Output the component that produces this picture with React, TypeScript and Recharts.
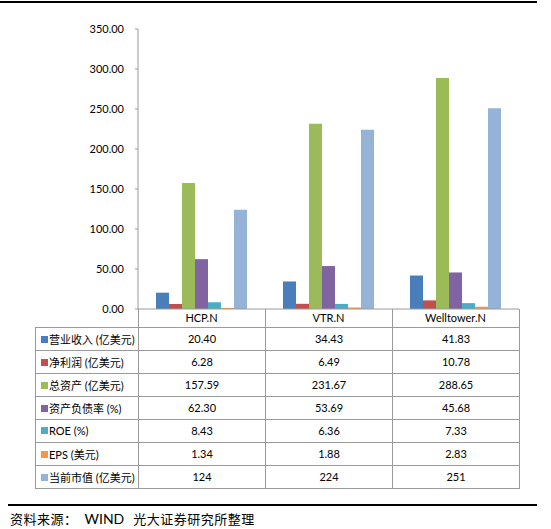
import { BarChart, Bar, XAxis, YAxis } from 'recharts';

document.body.style.margin = '0';

const categories = ['HCP.N', 'VTR.N', 'Welltower.N'];
const revenue = [20.4, 34.43, 41.83];
const netProfit = [6.28, 6.49, 10.78];
const totalAssets = [157.59, 231.67, 288.65];
const debtRatio = [62.3, 53.69, 45.68];
const roe = [8.43, 6.36, 7.33];
const eps = [1.34, 1.88, 2.83];
const marketCap = [124, 224, 251];
const yTicks = [0, 50, 100, 150, 200, 250, 300, 350];

const seriesNames = [
  '营业收入 (亿美元)',
  '净利润 (亿美元)',
  '总资产 (亿美元)',
  '资产负债率 (%)',
  'ROE (%)',
  'EPS (美元)',
  '当前市值 (亿美元)',
];
const seriesValues = [revenue, netProfit, totalAssets, debtRatio, roe, eps, marketCap];
const seriesColors = ['#4a7ebb', '#c0504d', '#9bbb59', '#8064a2', '#4bacc6', '#f79646', '#95b3d7'];

const data = categories.map((name, i) => {
  const row: Record<string, string | number> = { name };
  seriesValues.forEach((vals, s) => {
    row['s' + s] = vals[i];
  });
  return row;
});

const fmt = (v: number) => (Number.isInteger(v) ? String(v) : v.toFixed(2));

const FONT = 'Lato, "Noto Sans CJK SC", sans-serif';
const line = '1px solid #9a9a9a';

export default function App() {
  return (
    <div style={{ position: 'relative', width: 551, height: 529, fontFamily: FONT, background: '#fff' }}>
      <div style={{ position: 'absolute', left: 0, top: 1, width: 537, height: 2, background: '#000' }} />

      <div style={{ position: 'absolute', left: 0, top: 0 }}>
        <BarChart
          width={551}
          height={330}
          data={data}
          margin={{ top: 29, right: 32, left: 0, bottom: 3 }}
          barCategoryGap={18}
          barGap={0}
        >
          <XAxis
            dataKey="name"
            height={18}
            axisLine={{ stroke: '#9a9a9a' }}
            tickLine={false}
            tickSize={4}
            tickMargin={1}
            tick={{ fontSize: 11, fill: '#000', fontFamily: FONT }}
          />
          <YAxis
            width={138}
            domain={[0, 350]}
            ticks={yTicks}
            interval={0}
            tickFormatter={(v: number) => v.toFixed(2)}
            axisLine={{ stroke: '#9a9a9a' }}
            tickLine={{ stroke: '#9a9a9a' }}
            tickSize={3}
            tickMargin={11}
            tick={{ fontSize: 11, fill: '#000', fontFamily: FONT }}
          />
          {seriesNames.map((n, s) => (
            <Bar key={n} dataKey={'s' + s} name={n} fill={seriesColors[s]} isAnimationActive={false} />
          ))}
        </BarChart>
      </div>

      <table
        style={{
          position: 'absolute',
          left: 35,
          top: 309,
          borderCollapse: 'collapse',
          tableLayout: 'fixed',
          width: 103 + 127 * 3,
          fontSize: 11,
          fontFamily: FONT,
          color: '#000',
        }}
      >
        <colgroup>
          <col style={{ width: 103 }} />
          {categories.map((c) => (
            <col key={c} style={{ width: 127 }} />
          ))}
        </colgroup>
        <tbody>
          <tr style={{ height: 18 }}>
            <td style={{ padding: 0, border: 'none' }} />
            {categories.map((c) => (
              <td key={c} style={{ padding: 0, borderLeft: line, borderRight: line }} />
            ))}
          </tr>
          {seriesNames.map((n, s) => (
            <tr key={n} style={{ height: 23 }}>
              <td style={{ padding: '0 0 0 5px', border: line, whiteSpace: 'nowrap' }}>
                <span
                  style={{
                    display: 'inline-block',
                    width: 7,
                    height: 7,
                    background: seriesColors[s],
                    marginRight: 1,
                    verticalAlign: 1,
                  }}
                />
                {n}
              </td>
              {seriesValues[s].map((v, i) => (
                <td key={i} style={{ padding: 0, border: line, textAlign: 'center' }}>
                  {fmt(v)}
                </td>
              ))}
            </tr>
          ))}
        </tbody>
      </table>

      <div style={{ position: 'absolute', left: 8, top: 504, width: 529, height: 2, background: '#000' }} />
      <div
        style={{
          position: 'absolute',
          left: 10,
          top: 509,
          fontSize: 13,
          letterSpacing: 0.5,
          fontFamily: '"Noto Sans CJK SC", sans-serif',
          whiteSpace: 'nowrap',
        }}
      >
        资料来源：
        <span style={{ fontFamily: 'Lato, sans-serif', fontSize: 14, letterSpacing: 0, margin: '0 9px 0 7px' }}>WIND</span>
        光大证券研究所整理
      </div>
    </div>
  );
}
